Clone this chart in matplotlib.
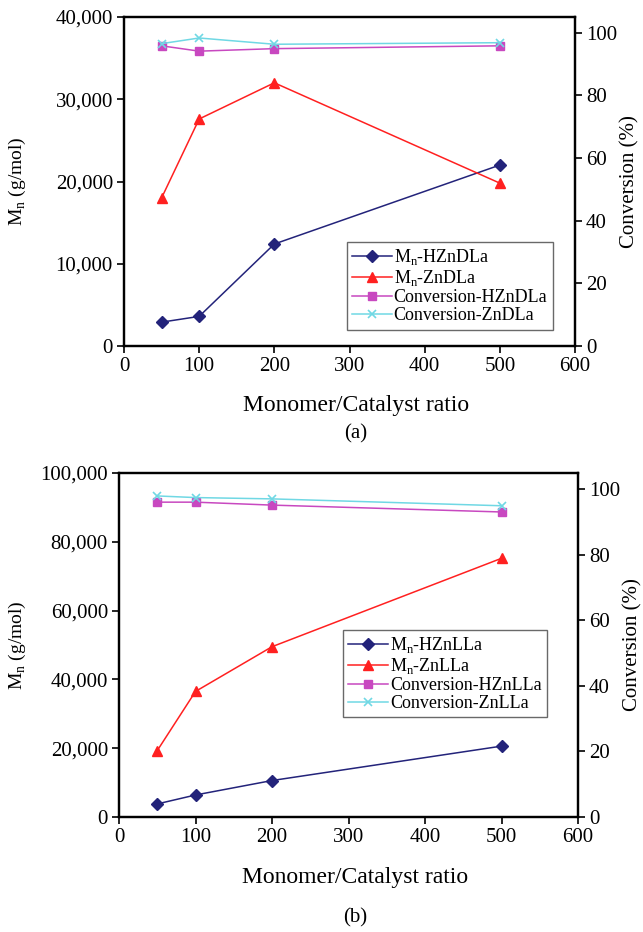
import matplotlib
matplotlib.use("Agg")
import matplotlib.pyplot as plt

plt.rcParams['font.family'] = ['Liberation Serif', 'DejaVu Serif']
plt.rcParams['mathtext.fontset'] = 'custom'
plt.rcParams['mathtext.rm'] = 'Liberation Serif'

ratio = [50, 100, 200, 500]

# panel (a)
mn_hzndla = [2900, 3600, 12400, 22000]
mn_zndla = [18000, 27600, 32000, 19800]
conv_hzndla = [95.8, 94.1, 94.9, 95.8]
conv_zndla = [96.5, 98.3, 96.3, 96.8]

# panel (b)
mn_hznlla = [3800, 6400, 10600, 20600]
mn_znlla = [19300, 36500, 49500, 75200]
conv_hznlla = [96.1, 96.1, 95.2, 93.1]
conv_znlla = [98.0, 97.5, 97.1, 95.0]

NAVY = '#23237a'
RED = '#ff2020'
MAGENTA = '#c848c0'
CYAN = '#70d8e4'


def panel(rect, mn1, mn2, c1, c2, names, ymax, ystep, leg_anchor, tag, tag_y, xlab_y, ylab_x):
    ax = fig.add_axes(rect)
    ax2 = ax.twinx()
    l1, = ax.plot(ratio, mn1, color=NAVY, marker='D', ms=6, lw=1.1)
    l2, = ax.plot(ratio, mn2, color=RED, marker='^', ms=7, lw=1.1)
    l3, = ax2.plot(ratio, c1, color=MAGENTA, marker='s', ms=6, lw=1.1)
    l4, = ax2.plot(ratio, c2, color=CYAN, marker='x', ms=6, mew=1.2, lw=1.1)

    ax.set_xlim(0, 600)
    ax.set_ylim(0, ymax)
    ax.set_yticks(range(0, ymax + 1, ystep))
    ax.set_yticklabels([f'{v:,}' for v in range(0, ymax + 1, ystep)])
    ax2.set_ylim(0, 105)
    ax2.set_yticks(range(0, 101, 20))
    ax.set_xticks(range(0, 601, 100))

    for a in (ax, ax2):
        a.tick_params(direction='out', length=5, width=1.2, labelsize=15, pad=3)
        for s in a.spines.values():
            s.set_linewidth(1.6)

    ax.set_ylabel(r'M$_\mathregular{n}$ (g/mol)', fontsize=14)
    ax.yaxis.set_label_coords(ylab_x, 0.5)
    ax2.set_ylabel('Conversion (%)', fontsize=15, labelpad=2)
    fig.text(rect[0] + rect[2] / 2 + 0.01, xlab_y, 'Monomer/Catalyst ratio',
             ha='center', va='center', fontsize=17)
    fig.text(rect[0] + rect[2] / 2 + 0.01, tag_y, tag, ha='center', va='center', fontsize=15)

    leg = ax2.legend([l1, l2, l3, l4], names, loc='lower left', bbox_to_anchor=leg_anchor,
                     fontsize=13, frameon=True, fancybox=False, handlelength=2.2,
                     handletextpad=0.1, labelspacing=0.05, borderpad=0.3, borderaxespad=0)
    leg.get_frame().set_edgecolor('#444444')
    leg.get_frame().set_linewidth(1.0)
    return ax


fig = plt.figure(figsize=(6.43, 9.32), dpi=100)

panel([124 / 643, 1 - 346 / 932, 451 / 643, 329 / 932],
      mn_hzndla, mn_zndla, conv_hzndla, conv_zndla,
      [r'M$_\mathregular{n}$-HZnDLa', r'M$_\mathregular{n}$-ZnDLa',
       'Conversion-HZnDLa', 'Conversion-ZnDLa'],
      40000, 10000, (0.494, 0.05), '(a)', 1 - 434 / 932, 1 - 405 / 932, -0.212)

panel([119 / 643, 1 - 817 / 932, 459 / 643, 344 / 932],
      mn_hznlla, mn_znlla, conv_hznlla, conv_znlla,
      [r'M$_\mathregular{n}$-HZnLLa', r'M$_\mathregular{n}$-ZnLLa',
       'Conversion-HZnLLa', 'Conversion-ZnLLa'],
      100000, 20000, (0.488, 0.29), '(b)', 1 - 918 / 932, 1 - 878 / 932, -0.198)

fig.savefig('out.png', dpi=100)
